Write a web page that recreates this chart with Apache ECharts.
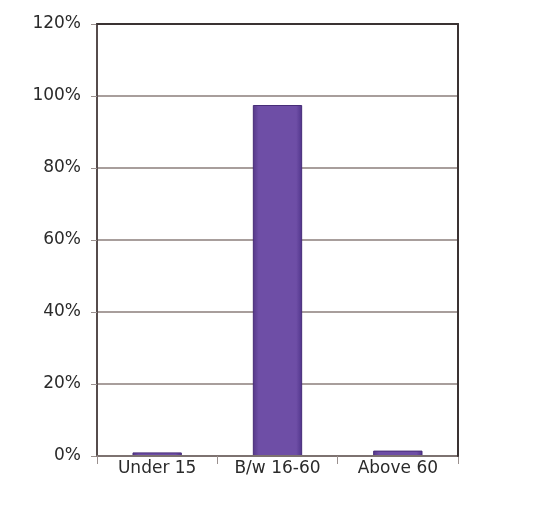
<!DOCTYPE html>
<html>
<head>
<meta charset="utf-8">
<script src="https://cdn.jsdelivr.net/npm/echarts@6/dist/echarts.min.js"></script>
<style>
  html, body { margin: 0; padding: 0; background: #ffffff; }
  #chart { width: 557px; height: 520px; }
</style>
</head>
<body>
<div id="chart"></div>
<script>
// Age groups and their share of the population (percent)
const categories = ['Under 15', 'B/w 16-60', 'Above 60'];
const shares = [1, 97.5, 1.5];
const yTicks = [0, 20, 40, 60, 80, 100, 120];

const chart = echarts.init(document.getElementById('chart'));
const labelFont = { fontFamily: 'DejaVu Sans', fontSize: 17, color: '#2a2a2a' };
const frameLine = { show: true, onZero: false, lineStyle: { color: '#3a3232', width: 2 } };

chart.setOption({
  animation: false,
  grid: { left: 97, right: 99, top: 24, bottom: 64, show: false },
  xAxis: [{
    type: 'category',
    data: categories,
    z: 5,
    axisLine: { show: true, lineStyle: { color: '#7d7270', width: 2 } },
    axisTick: { show: true, alignWithLabel: false, length: 8, lineStyle: { color: '#9a908e', width: 1 } },
    axisLabel: Object.assign({ margin: 4 }, labelFont)
  }, {
    // top edge of the frame
    type: 'category',
    data: categories,
    position: 'top',
    z: 10,
    axisLine: frameLine,
    axisTick: { show: false },
    axisLabel: { show: false }
  }],
  yAxis: [{
    type: 'value',
    min: yTicks[0],
    max: yTicks[yTicks.length - 1],
    interval: 20,
    z: 1,
    axisLine: { show: true, lineStyle: { color: '#564c4c', width: 2 } },
    axisTick: { show: true, length: 6, lineStyle: { color: '#9a908e' } },
    axisLabel: Object.assign({ margin: 16, formatter: v => v + '%' }, labelFont),
    splitLine: { show: true, showMaxLine: false, showMinLine: false, lineStyle: { color: '#a89e9c', width: 2 } }
  }, {
    // right edge of the frame
    type: 'value',
    position: 'right',
    min: yTicks[0],
    max: yTicks[yTicks.length - 1],
    interval: 20,
    z: 10,
    axisLine: frameLine,
    axisTick: { show: false },
    axisLabel: { show: false },
    splitLine: { show: false }
  }],
  series: [{
    type: 'bar',
    data: shares,
    barWidth: '41%',
    z: 4,
    itemStyle: {
      color: new echarts.graphic.LinearGradient(0, 0, 1, 0, [
        { offset: 0, color: '#553888' },
        { offset: 0.12, color: '#6e4ea6' },
        { offset: 0.88, color: '#6e4ea6' },
        { offset: 1, color: '#50348a' }
      ]),
      borderColor: '#472d78',
      borderWidth: 1
    }
  }]
});
</script>
</body>
</html>
